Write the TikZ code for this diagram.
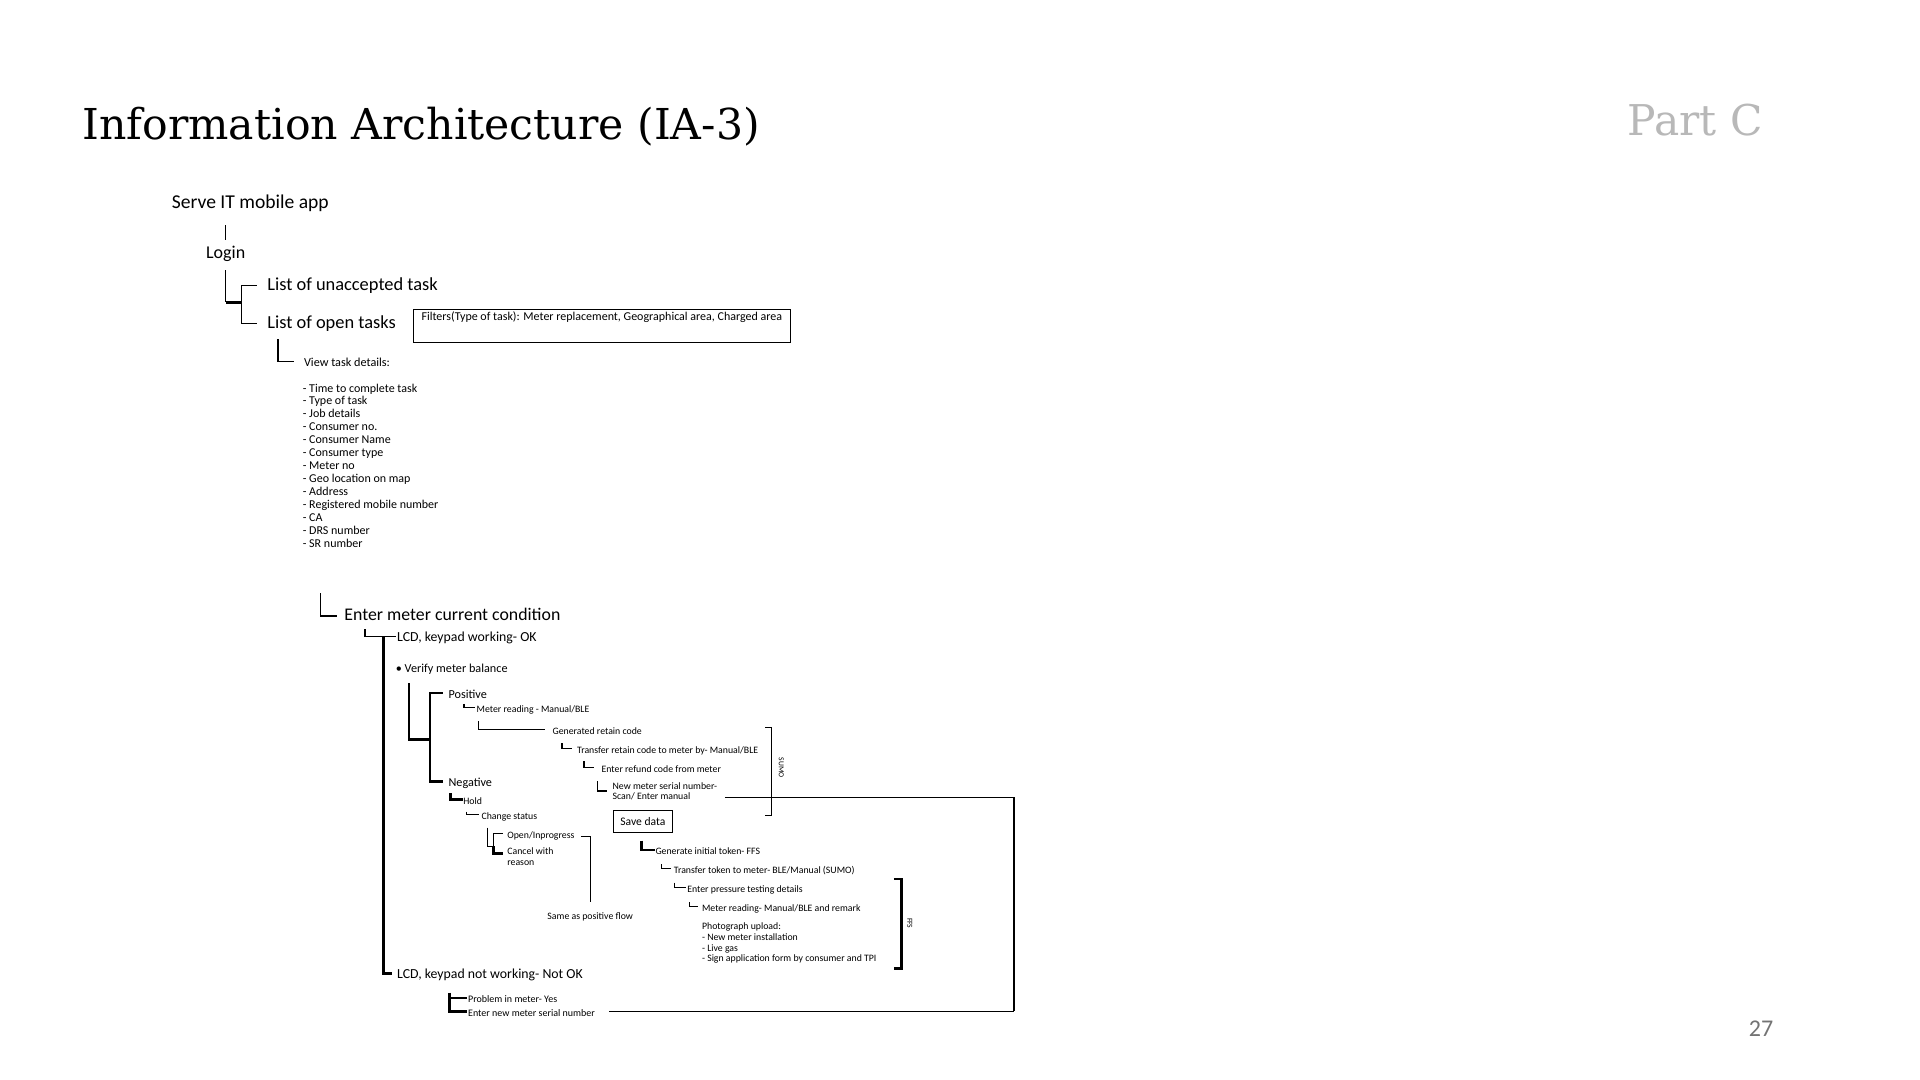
\documentclass[tikz,border=0pt]{standalone}
\usepackage{fontspec}
\setsansfont{Carlito}
\newfontfamily\slidefont{DejaVu Serif}
\usetikzlibrary{calc,positioning}
\definecolor{partgrey}{gray}{0.72}
\definecolor{numgrey}{gray}{0.45}
\tikzset{
  entry/.style={
      inner sep=0pt,
      anchor=west,
      text height=.65em,
      text depth=.15em,
      font=\sffamily,
  },
  heading/.style={
      entry,
      font=\sffamily\fontsize{9.2}{11}\selectfont,
  },
  subheading/.style={
      entry,
      font=\sffamily\fontsize{6.9}{8}\selectfont,
  },
  choice/.style={
      entry,
      font=\sffamily\fontsize{6.1}{7}\selectfont,
  },
  leaf/.style={
      entry,
      font=\sffamily\fontsize{4.9}{5.6}\selectfont,
  },
  lines/.style={
      inner sep=0pt,
      align=left,
  },
  boxed/.style={
      draw,
      line width=0.6pt,
      inner sep=0pt,
  },
  link/.style={
      line width=0.6pt,
  },
  boldlink/.style={
      line width=1.3pt,
  },
  gap/.style={
      shorten >=#1
  },
  gap/.default=2pt,
  side label/.style={
      inner sep=0pt,
      rotate=-90,
      font=\sffamily\fontsize{3.8}{4}\selectfont,
  },
}

\begin{document}
\begin{tikzpicture}[x=0.612245pt, y=-0.612245pt]
  \useasboundingbox (0,0) rectangle (1568,882);
  \fill[white] (0,0) rectangle (1568,882);

  % slide furniture
  \node (title) [anchor=base west, inner sep=0pt, font=\slidefont\fontsize{21.3}{26}\selectfont] at (67,114) {Information Architecture (IA-3)};
  \node (part) [anchor=base east, inner sep=0pt, text=partgrey, font=\slidefont\fontsize{21.2}{26}\selectfont] at (1440,111) {Part C};
  \node (page) [entry, text=numgrey, font=\sffamily\fontsize{12}{14}\selectfont] at (1428,842) {27};

  % top of the tree
  \node (serve) [entry, font=\sffamily\fontsize{9.8}{12}\selectfont] at (140,166) {Serve IT mobile app};
  \node (login) [heading, font=\sffamily\fontsize{9}{11}\selectfont] at (168,207) {Login};
  \node (unacc) [heading] at (218,233) {List of unaccepted task};
  \node (opentasks) [heading] at (218,264) {List of open tasks};
  \node (filters) [boxed, anchor=north west, minimum width=188.6pt, minimum height=16.5pt,
    text height=4.1pt, text depth=9.2pt, inner xsep=3pt, inner ysep=1.6pt,
    font=\sffamily\fontsize{6}{6.5}\selectfont] at (337,252)
    {Filters(Type of task): Meter replacement, Geographical area, Charged area};
  \node (viewdet) [entry, font=\sffamily\fontsize{6.1}{6.5}\selectfont] at (248,295) {View task details:};
  \node (details) [lines, anchor=north west, font=\sffamily\fontsize{6}{6.48}\selectfont] at (247,313) {
      - Time to complete task\\- Type of task\\- Job details\\- Consumer no.\\- Consumer Name
      \\- Consumer type\\- Meter no\\- Geo location on map\\- Address\\- Registered mobile number
      \\- CA\\- DRS number\\- SR number};

  % meter condition
  \node (enter) [entry, font=\sffamily\fontsize{8.9}{11}\selectfont] at (281,503) {Enter meter current condition};
  \node (lcdok) [subheading] at (324,520) {LCD, keypad working- OK};
  \node (verify) [choice] at (323,545) {\textbullet\ Verify meter balance};
  \node (positive) [choice] at (366,566) {Positive};
  \node (mread) [leaf] at (389,578) {Meter reading - Manual/BLE};
  \node (genret) [leaf] at (451,596) {Generated retain code};
  \node (transret) [leaf] at (471,611) {Transfer retain code to meter by- Manual/BLE};
  \node (refund) [leaf] at (491,627) {Enter refund code from meter};
  \node (newser) [lines, anchor=west, font=\sffamily\fontsize{4.9}{5.1}\selectfont] at (500,646) {New meter serial number-\\Scan/ Enter manual};
  \node (sumo) [side label] at (638,627) {SUMO};
  \node (negative) [choice] at (366,638) {Negative};
  \node (hold) [leaf] at (378,653) {Hold};
  \node (chstat) [leaf] at (393,665) {Change status};
  \node (openprog) [leaf] at (414,681) {Open/Inprogress};
  \node (cancel) [lines, anchor=west, font=\sffamily\fontsize{4.9}{5.5}\selectfont] at (414,699.5) {Cancel with\\reason};
  \node (sameas) [leaf, anchor=center] at (482,747) {Same as positive flow};
  \node (savedata) [boxed, minimum width=29.4pt, minimum height=11pt, font=\sffamily\fontsize{5.8}{6}\selectfont] at (525,671) {Save data};
  \node (geninit) [leaf] at (535,694) {Generate initial token- FFS};
  \node (transtok) [leaf] at (550,709) {Transfer token to meter- BLE/Manual (SUMO)};
  \node (pressure) [leaf] at (561,725) {Enter pressure testing details};
  \node (mread2) [leaf] at (573,740) {Meter reading- Manual/BLE and remark};
  \node (photo) [lines, anchor=north west, font=\sffamily\fontsize{4.9}{5.3}\selectfont] at (573,753.5) {
      Photograph upload:\\- New meter installation\\- Live gas\\- Sign application form by consumer and TPI};
  \node (ffs) [side label] at (743,754) {FFS};
  \node (lcdnok) [subheading] at (324,795) {LCD, keypad not working- Not OK};
  \node (problem) [leaf, font=\sffamily\fontsize{5}{5.6}\selectfont] at (382,815) {Problem in meter- Yes};
  \node (enternew) [leaf, font=\sffamily\fontsize{5}{5.6}\selectfont] at (382,826) {Enter new meter serial number};

  % connectors, top
  \draw[link, gap=2.4pt] (serve.south -| login.north) ++(0,11) -- (login.north);
  \coordinate (loginfork) at (197,247);
  \draw[link] (login.south) ++(0,7) -- (login.south |- loginfork);
  \draw[boldlink] (login.south |- loginfork) -- (loginfork);
  \draw[link, gap=4.9pt] (loginfork) |- (unacc.west);
  \draw[link, gap=4.9pt] (loginfork) |- (opentasks.west);
  \draw[link, gap=4.9pt] (opentasks.south west) ++(9,6) |- (viewdet.west);
  \draw[link, gap=3.7pt] (details.south west) ++(15,37) |- (enter.west);
  \draw[link, gap=0.6pt] (enter.south west) ++(17,4) |- (lcdok.west);
  \draw[boldlink, gap=2.4pt] (lcdok.west) ++(-11,0) |- (lcdnok.west);

  % positive / negative balance
  \coordinate (balfork) at (351,604);
  \draw[boldlink] (verify.south west) ++(11,6) |- (balfork);
  \draw[boldlink, gap=2.4pt] (balfork) |- (positive.west);
  \draw[boldlink, gap=2.4pt] (balfork) |- (negative.west);
  \draw[link, gap=0.6pt] (positive.south west) ++(13,2) |- (mread.west);
  \draw[link, gap=3.7pt] (mread.south west) ++(2,4) |- (genret.west);
  \draw[link, gap=2.4pt] (genret.south west) ++(8,4) |- (transret.west);
  \draw[link, gap=3.7pt] (transret.south west) ++(6,4) |- (refund.west);
  \draw[link, gap=2.4pt] (refund.south west) ++(-3,4) |- (newser.west);
  \draw[link] (625,594) -| (630,666) -- (625,666);
  \coordinate (loopcorner) at (828,651);
  \draw[link] (loopcorner -| newser.east) ++(6,0) -- (loopcorner);
  \draw[boldlink] (loopcorner) -- (loopcorner |- enternew.east);
  \draw[link, gap=6.7pt] (loopcorner |- enternew.east) -- (enternew.east);

  \draw[boldlink] (negative.south west) ++(2,3) |- (hold.west);
  \draw[link, gap=1.2pt] (hold.south west) ++(3,3) |- (chstat.west);
  \coordinate (statfork) at (403,691);
  \draw[link] (chstat.south west) ++(5,4) |- (statfork);
  \draw[link, gap=1.8pt] (statfork) |- (openprog.west);
  \draw[boldlink, gap=1.8pt] (statfork) |- ([yshift=1.5pt]cancel.west);
  \draw[link, gap=2.3pt] (openprog.east) ++(5,2) -| (sameas.north);

  \draw[boldlink] (savedata.south) ++(-1,6) |- (geninit.west);
  \draw[link, gap=1.2pt] (geninit.south west) ++(5,5) |- (transtok.west);
  \draw[link, gap=0.6pt] (transtok.south west) ++(1,5) |- (pressure.west);
  \draw[link, gap=1.8pt] (pressure.south west) ++(2,5) |- (mread2.west);
  \draw[boldlink] (730,718) -| (736,791) -- (730,791);

  % keypad not working
  \draw[boldlink, gap=0.6pt] (lcdnok.south west) ++(43,9) |- (problem.west);
  \draw[boldlink, gap=0.6pt] (lcdnok.south west) ++(43,9) |- (enternew.west);
\end{tikzpicture}
\end{document}
